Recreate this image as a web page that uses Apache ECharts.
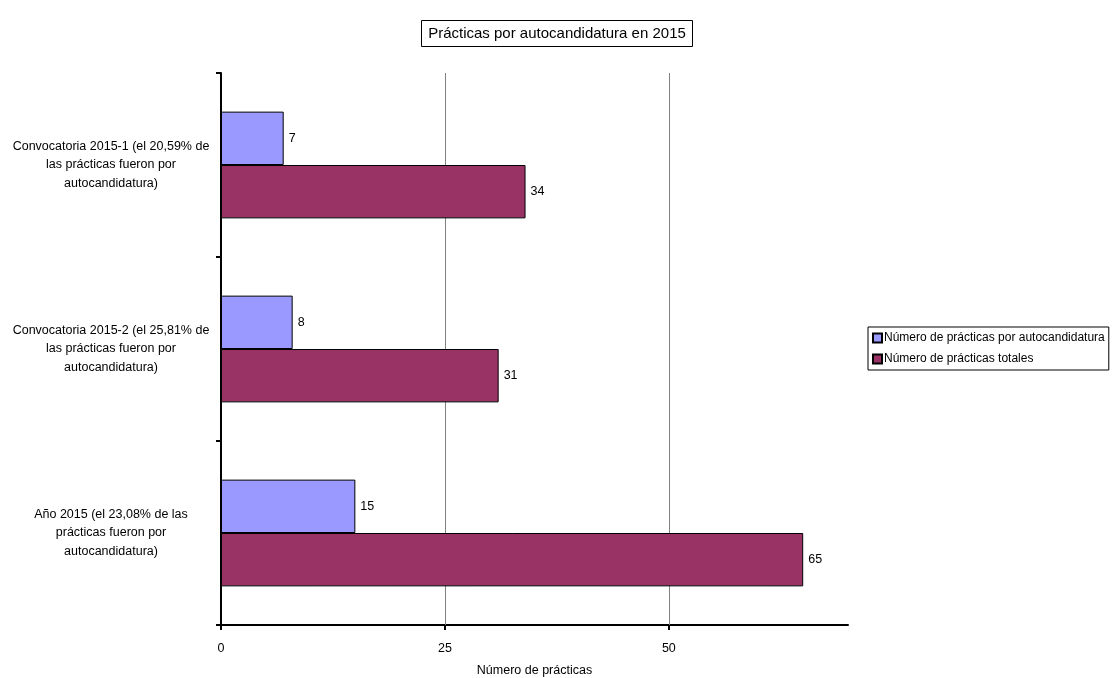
<!DOCTYPE html>
<html>
<head>
<meta charset="utf-8">
<script src="https://cdn.jsdelivr.net/npm/echarts@6/dist/echarts.min.js"></script>
<style>html,body{margin:0;padding:0;background:#fff}#c{width:1114px;height:678px}</style>
</head>
<body>
<div id="c"></div>
<script>
const categories = [
  "Convocatoria 2015-1 (el 20,59% de\nlas prácticas fueron por\nautocandidatura)",
  "Convocatoria 2015-2 (el 25,81% de\nlas prácticas fueron por\nautocandidatura)",
  "Año 2015 (el 23,08% de las\nprácticas fueron por\nautocandidatura)"
];
const seriesNames = ["Número de prácticas por autocandidatura", "Número de prácticas totales"];
const autocandidatura = [7, 8, 15];
const totales = [34, 31, 65];
const xTicks = [0, 25, 50];
const gridValues = [25, 50];

const FONT = '"Liberation Sans Narrow", "Arial Narrow", "Liberation Sans", sans-serif';
const chart = echarts.init(document.getElementById('c'));
chart.setOption({
  backgroundColor: '#fff',
  animation: false,
  textStyle: { fontFamily: FONT, color: '#000' },
  title: {
    text: 'Prácticas por autocandidatura en 2015',
    left: 'center', top: 20,
    padding: [6, 7, 6, 7],
    borderColor: '#000', borderWidth: 1,
    textStyle: { fontFamily: FONT, fontSize: 15, fontWeight: 'normal', color: '#000' }
  },
  legend: {
    orient: 'vertical', left: 868, top: 327,
    borderColor: '#000', borderWidth: 1,
    padding: [5, 4, 5, 4],
    itemWidth: 9, itemHeight: 9, itemGap: 9,
    icon: 'rect',
    textStyle: { fontFamily: FONT, fontSize: 12, color: '#000', padding: [0, 0, 0, -3] },
    data: seriesNames
  },
  grid: { left: 221, right: 266, top: 73, bottom: 53, containLabel: false, outerBoundsMode: 'none' },
  xAxis: {
    type: 'value', min: 0, max: 70, interval: 25,
    name: 'Número de prácticas', nameLocation: 'middle', nameGap: 39,
    nameTextStyle: { fontFamily: FONT, fontSize: 12.5, color: '#000' },
    axisLine: { show: true, lineStyle: { color: '#000', width: 2 } },
    axisTick: { show: true, length: 5, lineStyle: { color: '#000', width: 2 }, customValues: xTicks },
    axisLabel: { fontFamily: FONT, fontSize: 12.5, color: '#000', margin: 17, customValues: xTicks },
    splitLine: { show: false }
  },
  yAxis: {
    type: 'category', inverse: true, data: categories,
    axisLine: { show: true, lineStyle: { color: '#000', width: 2 } },
    axisTick: { show: true, length: 5, lineStyle: { color: '#000', width: 2 } },
    axisLabel: { fontFamily: FONT, fontSize: 12.5, color: '#000', align: 'center', margin: 110, lineHeight: 18.5 }
  },
  series: [
    {
      name: seriesNames[0], type: 'bar', data: autocandidatura,
      barGap: '0%', barCategoryGap: '42%',
      itemStyle: { color: '#9999FF', borderColor: '#000', borderWidth: 1 },
      label: { show: true, position: 'right', distance: 5, fontFamily: FONT, fontSize: 12.5, color: '#000' },
      markLine: {
        silent: true, symbol: 'none', z: 1,
        label: { show: false },
        lineStyle: { color: '#808080', width: 1, type: 'solid' },
        data: gridValues.map(v => ({ xAxis: v }))
      }
    },
    {
      name: seriesNames[1], type: 'bar', data: totales,
      barGap: '0%', barCategoryGap: '42%',
      itemStyle: { color: '#993366', borderColor: '#000', borderWidth: 1 },
      label: { show: true, position: 'right', distance: 5, fontFamily: FONT, fontSize: 12.5, color: '#000' }
    }
  ]
});
</script>
</body>
</html>
